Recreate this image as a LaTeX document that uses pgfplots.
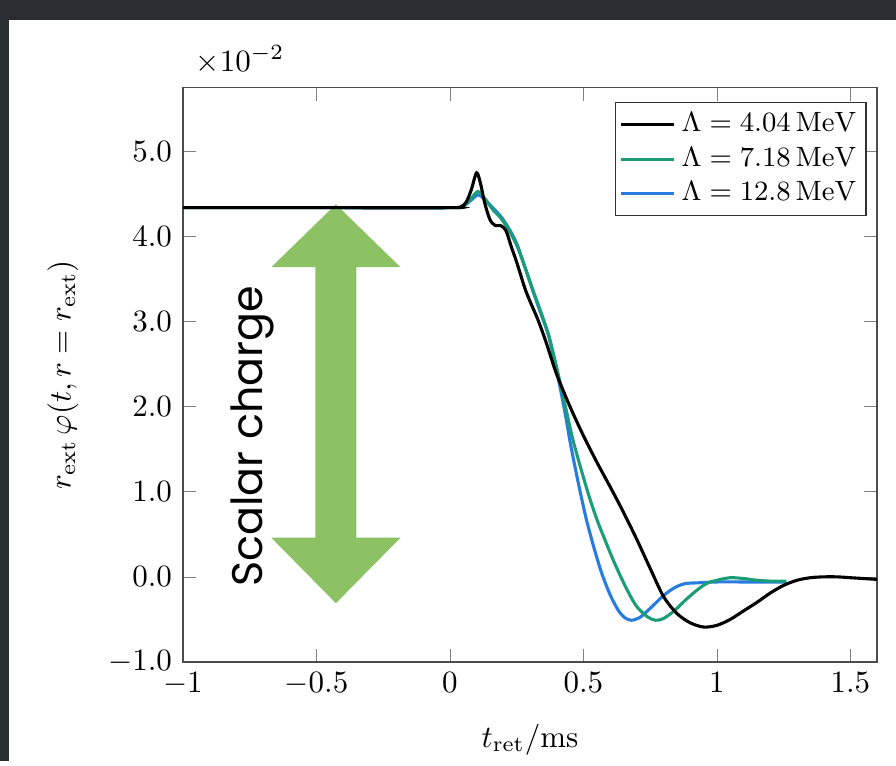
\documentclass[border=0pt]{standalone}
\usepackage{fontspec}
\usepackage{pgfplots}
\pgfplotsset{compat=1.18}
\newfontfamily\comicfont{Poppins}
\definecolor{lgreen}{RGB}{27,158,119}
\definecolor{lblue}{RGB}{40,124,224}
\definecolor{arrowgreen}{RGB}{140,194,100}
\definecolor{darkbg}{RGB}{42,46,51}
\begin{document}
\begin{tikzpicture}
% slide background
\fill[darkbg] (-59.0pt,-31.9pt) rectangle (230.0pt,213.5pt);
\fill[white] (-56.1pt,-31.9pt) rectangle (230.0pt,207.0pt);
\begin{axis}[
  anchor=south west, at={(0pt,0pt)},
  scale only axis,
  width=223.9pt, height=185.2pt,
  xmin=-1, xmax=1.6, ymin=-1, ymax=5.75,
  xtick={-1,-0.5,0,0.5,1,1.5},
  ytick={-1,0,1,2,3,4,5},
  yticklabel style={/pgf/number format/.cd, fixed, fixed zerofill, precision=1},
  xlabel={$t_{\mathrm{ret}}/\mathrm{ms}$},
  ylabel={$r_{\mathrm{ext}}\,\varphi(t, r=r_{\mathrm{ext}})$},
  x label style={at={(axis description cs:0.5,-0.135)}, anchor=center},
  y label style={at={(axis description cs:-0.173,0.5)}, anchor=center},
  legend style={at={(0.985,0.975)}, anchor=north east, draw=black!80,
    font=\small, inner sep=1.2pt, row sep=-0.5pt},
  legend cell align=left,
  axis line style={black!70},
]
\addlegendimage{black, line width=1pt}
\addlegendentry{$\Lambda = 4.04\,\mathrm{MeV}$}
\addlegendimage{lgreen, line width=1pt}
\addlegendentry{$\Lambda = 7.18\,\mathrm{MeV}$}
\addlegendimage{lblue, line width=1pt}
\addlegendentry{$\Lambda = 12.8\,\mathrm{MeV}$}
% scalar charge arrow (annotation)
\fill[arrowgreen] (axis cs:-0.427,4.38) -- (axis cs:-0.185,3.64) -- (axis cs:-0.350,3.64)
  -- (axis cs:-0.350,0.46) -- (axis cs:-0.185,0.46) -- (axis cs:-0.427,-0.31)
  -- (axis cs:-0.669,0.46) -- (axis cs:-0.504,0.46) -- (axis cs:-0.504,3.64)
  -- (axis cs:-0.669,3.64) -- cycle;
\node[rotate=90, anchor=center] at (axis cs:-0.738,1.65)
  {\resizebox{97pt}{!}{\comicfont Scalar charge}};

\addplot[lblue, line width=1pt, smooth, forget plot] coordinates {
(-1,4.34) (-0.5,4.34) (0.0,4.34) (0.05,4.36) (0.08,4.43) (0.105,4.49) (0.13,4.44)
(0.16,4.34) (0.19,4.24) (0.22,4.10) (0.25,3.92) (0.28,3.65) (0.31,3.37) (0.34,3.10)
(0.37,2.83) (0.40,2.42) (0.43,1.95) (0.45,1.59) (0.47,1.27) (0.49,0.97) (0.51,0.69)
(0.53,0.45) (0.55,0.23) (0.57,0.03) (0.60,-0.21) (0.63,-0.39) (0.655,-0.48)
(0.68,-0.51) (0.71,-0.48) (0.74,-0.40) (0.77,-0.31) (0.80,-0.22) (0.84,-0.13)
(0.88,-0.08) (0.93,-0.07) (1.00,-0.06) (1.10,-0.06) (1.26,-0.06)
};

\addplot[lgreen, line width=1pt, smooth, forget plot] coordinates {
(-1,4.34) (-0.5,4.34) (0.0,4.34) (0.05,4.36) (0.08,4.45) (0.105,4.53) (0.13,4.45)
(0.16,4.32) (0.19,4.22) (0.22,4.08) (0.25,3.90) (0.28,3.65) (0.31,3.38) (0.34,3.12)
(0.37,2.84) (0.40,2.46) (0.43,2.04) (0.46,1.62) (0.49,1.28) (0.52,0.96) (0.55,0.68)
(0.58,0.44) (0.61,0.21) (0.64,0.00) (0.67,-0.19) (0.70,-0.35) (0.74,-0.47)
(0.77,-0.51) (0.80,-0.49) (0.84,-0.40) (0.88,-0.28) (0.92,-0.17) (0.96,-0.08)
(1.00,-0.04) (1.05,-0.01) (1.10,-0.02) (1.15,-0.04) (1.20,-0.05) (1.26,-0.05)
};

\addplot[black, line width=1pt, smooth, forget plot] coordinates {
(-1,4.34) (-0.5,4.34) (0.0,4.34) (0.04,4.35) (0.06,4.40) (0.08,4.55) (0.10,4.75)
(0.115,4.62) (0.13,4.40) (0.15,4.20) (0.17,4.13) (0.19,4.13) (0.21,4.07) (0.23,3.88)
(0.25,3.70) (0.28,3.40) (0.30,3.24) (0.33,3.02) (0.36,2.76) (0.40,2.38) (0.45,2.00)
(0.50,1.66) (0.55,1.35) (0.60,1.06) (0.65,0.76) (0.70,0.44) (0.75,0.10) (0.80,-0.23)
(0.85,-0.43) (0.90,-0.54) (0.95,-0.59) (1.00,-0.57) (1.05,-0.50) (1.10,-0.40)
(1.15,-0.30) (1.20,-0.19) (1.25,-0.10) (1.30,-0.04) (1.35,-0.01) (1.40,0.00)
(1.45,0.00) (1.50,-0.01) (1.55,-0.02) (1.60,-0.03)
};
\end{axis}
\node[anchor=center] at (18.4pt,194.2pt) {$\times 10^{-2}$};
\end{tikzpicture}
\end{document}
